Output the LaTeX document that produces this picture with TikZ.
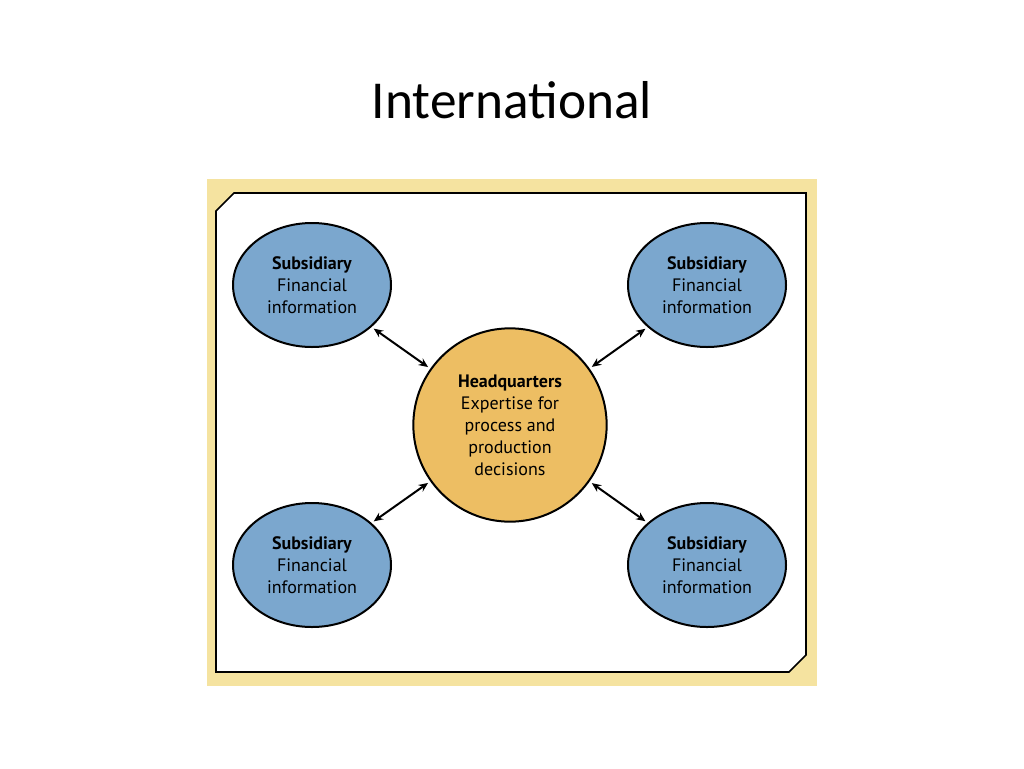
\documentclass[tikz,border=0pt]{standalone}
\usepackage{fontspec}
\setmainfont{Carlito}
\newfontfamily\dfont{PT Sans}
\usetikzlibrary{shapes.geometric,arrows.meta}
\definecolor{subblue}{HTML}{7BA7CE}
\definecolor{hqorange}{HTML}{EDBE63}
\definecolor{bgyellow}{HTML}{F5E3A0}
\begin{document}
\begin{tikzpicture}[x=0.75pt,y=-0.75pt,
  sub/.style={ellipse,draw=black,line width=1.5pt,fill=subblue,minimum width=158\pgflinewidth*0+118.5pt,minimum height=93pt,inner sep=0pt,align=center,font=\dfont\fontsize{13.5}{16.5}\selectfont},
  hq/.style={circle,draw=black,line width=1.5pt,fill=hqorange,minimum size=145pt,inner sep=0pt,align=center,font=\dfont\fontsize{13.5}{16.5}\selectfont},
  link/.style={{Stealth[length=7pt,width=6pt]}-{Stealth[length=7pt,width=6pt]},line width=1.5pt,shorten >=2pt,shorten <=2pt}]
\useasboundingbox (0,0) rectangle (1024,768);
\node[font=\fontsize{40}{48}\selectfont] (title) at (512,100) {International};
\fill[bgyellow] (207,179) rectangle (817,686);
\draw[line width=1.2pt,fill=white] (234,193) -- (806,193) -- (806,655) -- (789,672) -- (216,672) -- (216,211) -- cycle;
\node[hq] (hq) at (510,425) {\textbf{Headquarters}\\Expertise for\\process and\\production\\decisions};
\node[sub] (tl) at (312,285) {\textbf{Subsidiary}\\Financial\\information};
\node[sub] (tr) at (707,285) {\textbf{Subsidiary}\\Financial\\information};
\node[sub] (bl) at (312,565) {\textbf{Subsidiary}\\Financial\\information};
\node[sub] (br) at (707,565) {\textbf{Subsidiary}\\Financial\\information};
\draw[link] (tl) -- (hq);
\draw[link] (tr) -- (hq);
\draw[link] (bl) -- (hq);
\draw[link] (br) -- (hq);
\end{tikzpicture}
\end{document}
